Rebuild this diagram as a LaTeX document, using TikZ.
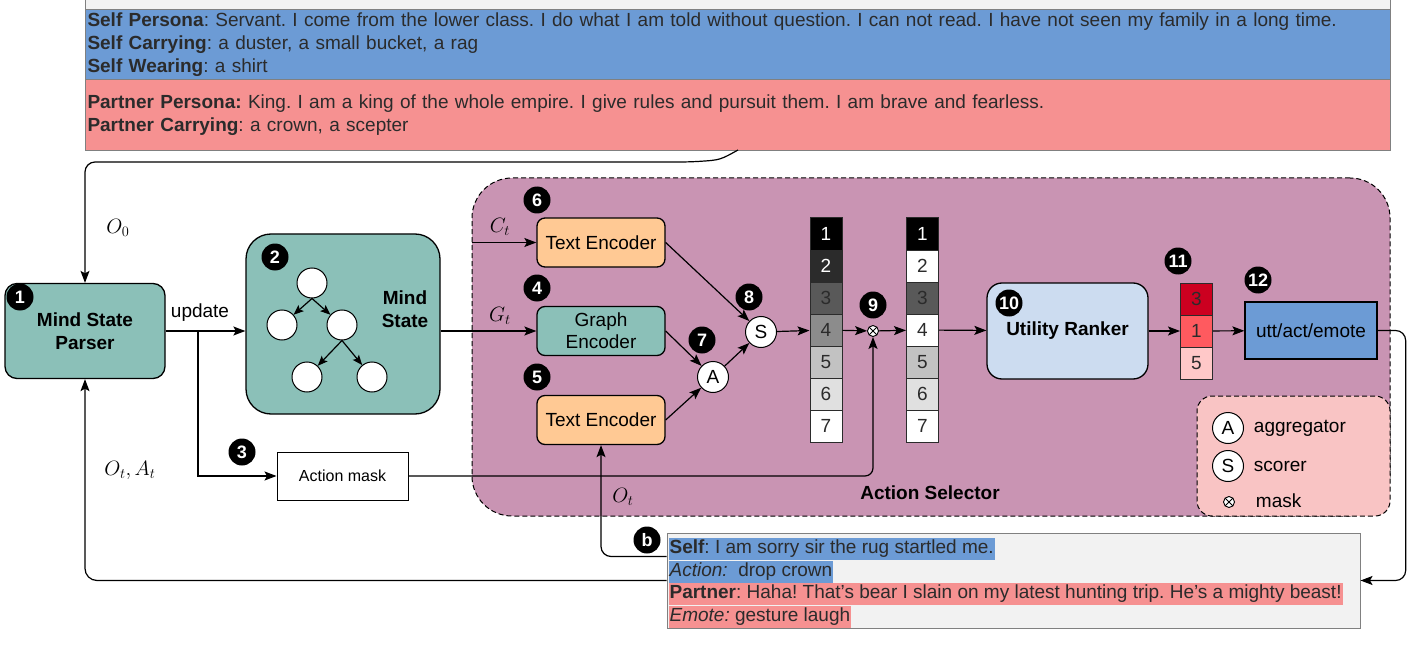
\documentclass[tikz,border=0pt]{standalone}
\usepackage{fontspec}
\setmainfont{Liberation Sans}
\usetikzlibrary{arrows.meta}

\definecolor{tealfill}{HTML}{8BC0B8}
\definecolor{selfblue}{HTML}{6C9BD5}
\definecolor{partnerred}{HTML}{F69191}
\definecolor{mauve}{HTML}{C994B3}
\definecolor{peach}{HTML}{FFC994}
\definecolor{rankblue}{HTML}{CCDCF0}
\definecolor{legendpink}{HTML}{F9C4C4}
\definecolor{boxgray}{HTML}{F2F2F2}
\definecolor{txtgray}{HTML}{2B2B2B}
\definecolor{gray2}{HTML}{2B2B2B}
\definecolor{gray3}{HTML}{595959}
\definecolor{gray4}{HTML}{8C8C8C}
\definecolor{gray5}{HTML}{C2C2C2}
\definecolor{gray6}{HTML}{E0E0E0}
\definecolor{rankdark}{HTML}{CC0020}
\definecolor{rankmid}{HTML}{FF5A5F}
\definecolor{ranklight}{HTML}{FFC8C8}

\begin{document}
\frenchspacing
\begin{tikzpicture}[x=1pt, y=-1pt, line width=1.2pt,
  font=\fontsize{19}{23}\selectfont,
  heavy/.style={font=\fontsize{19}{23}\selectfont\bfseries},
  lbl/.style={font=\fontsize{22}{26}\selectfont},
  arr/.style={-{Stealth[length=12pt,width=9pt,inset=2.5pt]}},
  treearr/.style={-{Stealth[length=10pt,width=8pt,inset=2pt]}},
  badge/.style={circle, fill=black, text=white, inner sep=0pt, minimum size=27pt, font=\fontsize{18}{18}\selectfont\bfseries},
  tealbox/.style={draw, fill=tealfill, rounded corners=12pt, line width=1.3pt},
  enc/.style={draw, fill=peach, rounded corners=8pt, minimum width=128pt, minimum height=49pt, line width=1.3pt},
  op/.style={circle, draw, fill=white, inner sep=0pt, minimum size=31pt, line width=1pt},
  tree/.style={circle, draw, fill=white, inner sep=0pt, minimum size=30pt, line width=1pt},
  cell/.style={draw=gray2, minimum width=32pt, minimum height=32pt, inner sep=0pt, line width=1pt},
  maskop/.style={circle, draw, fill=white, inner sep=0pt, minimum size=11pt, line width=0.9pt,
    path picture={\draw[line width=0.9pt] (path picture bounding box.north west) -- (path picture bounding box.south east)
      (path picture bounding box.north east) -- (path picture bounding box.south west);}},
  band/.style={draw=gray, line width=1pt, inner xsep=2pt, inner ysep=0pt, text width=1301pt, align=left, text=txtgray, anchor=north west},
  say/.style={anchor=west, inner xsep=1pt, inner ysep=1.5pt, text height=14pt, text depth=5pt, text=txtgray},
]
\useasboundingbox (0,0) rectangle (1416,647);

\node[draw=gray, fill=boxgray, line width=1pt, inner sep=0pt, minimum width=1305pt, minimum height=190pt, anchor=south west] (persona) at (85,150) {};
\node[band, fill=selfblue, minimum height=70pt] (self) at (85,9) {\textbf{Self Persona}: Servant. I come from the lower class. I do what I am told without question. I can not read. I have not seen my family in a long time.\\
\textbf{Self Carrying}: a duster, a small bucket, a rag\\
\textbf{Self Wearing}: a shirt};
\node[band, fill=partnerred, minimum height=71pt] (partner) at (85,79) {\textbf{Partner Persona:} King. I am a king of the whole empire. I give rules and pursuit them. I am brave and fearless.\\
\textbf{Partner Carrying}: a crown, a scepter};

\node[tealbox, heavy, align=center, minimum width=160pt, minimum height=95pt] (parser) at (85,331) {Mind State\\Parser};
\node[tealbox, rounded corners=25pt, minimum width=194pt, minimum height=180pt] (mind) at (343,324) {};
\node[heavy, align=center] (mindlabel) at (405,309) {Mind\\State};
\node[tree] (t1) at (312,283) {};
\node[tree] (t2) at (282,325) {};
\node[tree] (t3) at (342,325) {};
\node[tree] (t4) at (307,377) {};
\node[tree] (t5) at (372,377) {};
\draw[treearr] (t1.south) -- (t2);
\draw[treearr] (t1.south) -- (t3);
\draw[treearr] (t3.south) -- (t4);
\draw[treearr] (t3.south) -- (t5);

\node[draw, fill=white, line width=1pt, minimum width=131pt, minimum height=48pt, font=\fontsize{16}{19}\selectfont] (actmask) at (342.5,476) {Action mask};

\node[draw, dash pattern=on 5pt off 3pt, fill=mauve, rounded corners=40pt, line width=1pt, minimum width=918pt, minimum height=338pt] (selector) at (931,347) {};
\node[draw, dash pattern=on 5pt off 3pt, fill=legendpink, rounded corners=15pt, line width=1pt, minimum width=193pt, minimum height=120pt] (legend) at (1293.5,456) {};
\node[heavy] (sellabel) at (930,493) {Action Selector};

\node[enc] (text6) at (601,242.5) {Text Encoder};
\node[enc, fill=tealfill, align=center, font=\fontsize{19}{22}\selectfont] (graph) at (601,331) {Graph\\Encoder};
\node[enc] (text5) at (601,420) {Text Encoder};
\node[op] (A) at (713,377) {A};
\node[op] (S) at (761,332) {S};

\foreach \n/\c/\t in {1/black/white, 2/gray2/white, 3/gray3/txtgray, 4/gray4/txtgray, 5/gray5/txtgray, 6/gray6/txtgray, 7/white/txtgray}
  \node[cell, fill=\c, text=\t] (a\n) at (826,202+32*\n) {\n};
\node[maskop] (mask) at (873,331) {};
\foreach \n/\c/\t in {1/black/white, 2/white/txtgray, 3/gray3/txtgray, 4/white/txtgray, 5/gray5/txtgray, 6/gray6/txtgray, 7/white/txtgray}
  \node[cell, fill=\c, text=\t] (b\n) at (922.5,202+32*\n) {\n};

\node[draw, fill=rankblue, rounded corners=15pt, line width=1.3pt, heavy, minimum width=161pt, minimum height=96pt] (ranker) at (1067.5,331) {Utility Ranker};
\foreach \n/\v/\c in {1/3/rankdark, 2/1/rankmid, 3/5/ranklight}
  \node[cell, fill=\c, text=txtgray] (r\n) at (1196.5,267+32*\n) {\v};
\node[draw, fill=selfblue, line width=1.3pt, minimum width=132pt, minimum height=57pt] (utt) at (1311,330.5) {utt/act/emote};

\node[op] (legA) at (1228,428) {A};
\node[anchor=west] (aggtext) at (1250,428) {aggregator};
\node[op] (legS) at (1228,466) {S};
\node[anchor=west] (scotext) at (1250,466) {scorer};
\node[maskop] (legM) at (1229,502) {};
\node[anchor=west] (masktext) at (1252,501) {mask};

\node[draw=gray, fill=boxgray, line width=1pt, inner sep=0pt, minimum width=693pt, minimum height=95pt] (conv) at (1013.5,580.5) {};
\node[say, fill=selfblue] (line1) at (668,549) {\textbf{Self}: I am sorry sir the rug startled me.};
\node[say, fill=selfblue] (line2) at (668,572) {\textit{Action:}\ \ drop crown};
\node[say, fill=partnerred] (line3) at (668,594) {\textbf{Partner}: Haha! That's bear I slain on my latest hunting trip. He's a mighty beast!};
\node[say, fill=partnerred] (line4) at (668,617) {\textit{Emote:} gesture laugh};

\node[badge] (n1) at (20,297) {1};
\node[badge] (n2) at (275,257) {2};
\node[badge] (n3) at (242,452) {3};
\node[badge] (n4) at (537,288) {4};
\node[badge] (n5) at (537,377) {5};
\node[badge] (n6) at (537,200) {6};
\node[badge] (n7) at (702,340) {7};
\node[badge] (n8) at (749,297) {8};
\node[badge] (n9) at (873,305) {9};
\node[badge] (n10) at (1009,303) {10};
\node[badge] (n11) at (1178,261) {11};
\node[badge] (n12) at (1258,280) {12};
\node[badge] (nb) at (647,540) {b};

\node[lbl] (o0) at (118,228) {$O_0$};
\node (update) at (200,313) {update};
\node[lbl] (ct) at (500,227) {$C_t$};
\node[lbl] (gt) at (500,316) {$G_t$};
\node[lbl] (otat) at (130,470) {$O_t, A_t$};
\node[lbl] (ot) at (623,497) {$O_t$};

\coordinate (split) at (198,331);
\draw[arr, rounded corners=10pt] (persona.south) .. controls (720,160) .. (690,162) -| (parser.north);
\draw[arr] (parser.east) -- (parser.east -| mind.west);
\draw[arr] (split) |- (actmask.west);
\draw[arr] (mind.east |- graph.west) -- (graph.west);
\draw[arr] (selector.west |- text6.west) -- (text6.west);
\draw[arr] (text6.east) -- (S);
\draw[arr] (graph.east) -- (A);
\draw[arr] (text5.east) -- (A);
\draw[arr] (A) -- (S);
\draw[arr] (S) -- (a4);
\draw[arr] (a4) -- (mask);
\draw[arr] (mask) -- (b4);
\draw[arr] (b4) -- (ranker);
\draw[arr] (ranker) -- (r2);
\draw[arr] (r2) -- (utt);
\draw[arr, rounded corners=8pt] (actmask.east) -| (mask.south);
\draw[arr, rounded corners=10pt] (utt.east) -- ++(28,0) |- (conv.east);
\draw[arr, rounded corners=12pt] (conv.west) -| (parser.south);
\draw[arr, rounded corners=10pt] ([yshift=-24pt]conv.north west) -| (text5.south);
\end{tikzpicture}
\end{document}
